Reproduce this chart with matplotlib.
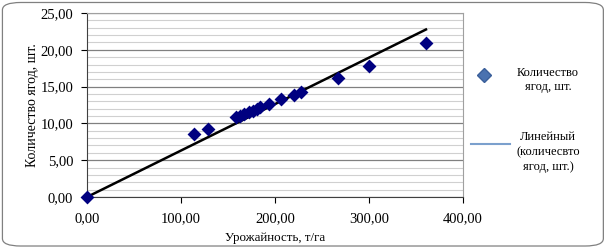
import matplotlib.pyplot as plt
from matplotlib.lines import Line2D
from matplotlib.patches import FancyBboxPatch
import numpy as np

# Data
yield_t_ha = [0.0, 114.2, 128.4, 158.2, 163.0, 167.5, 172.5, 176.5, 180.5, 184.0,
              194.0, 206.7, 220.2, 228.0, 267.4, 300.0, 360.6]
berries = [0.0, 8.56, 9.28, 10.83, 11.05, 11.25, 11.50, 11.75, 11.96, 12.19,
           12.64, 13.27, 13.86, 14.27, 16.20, 17.84, 20.88]

plt.rcParams['font.family'] = 'Liberation Serif'
plt.rcParams['font.size'] = 10.5

fig = plt.figure(figsize=(6.07, 2.49), dpi=100)
# rounded outer frame
fig.patches.append(FancyBboxPatch((0.004, 0.012), 0.99, 0.978, boxstyle='round,pad=0,rounding_size=0.03',
                                  transform=fig.transFigure, fill=False, edgecolor='#808080', linewidth=0.9))

ax = fig.add_axes([87 / 607, 52 / 249, 376 / 607, 184 / 249])

x = np.array(yield_t_ha)
y = np.array(berries)
# linear trend through the origin
k = np.sum(x * y) / np.sum(x * x)
xs = np.array([0, x.max()])
ax.plot(xs, k * xs, color='black', linewidth=1.8, zorder=3)
ax.scatter(x, y, marker='D', s=50, color='#000080', zorder=4, linewidths=0, clip_on=False)

ax.set_xlim(0, 400)
ax.set_ylim(0, 25)
ax.set_xticks(np.arange(0, 401, 100))
ax.set_yticks(np.arange(0, 26, 5))
ax.set_yticks(np.arange(0, 26, 1), minor=True)
ax.set_xticklabels([f'{v:.2f}'.replace('.', ',') for v in range(0, 401, 100)])
ax.set_yticklabels([f'{v:.2f}'.replace('.', ',') for v in range(0, 26, 5)])
ax.tick_params(axis='y', which='minor', length=0)
ax.tick_params(axis='both', which='major', length=4, direction='out', width=0.8)
ax.tick_params(axis='x', pad=7)
ax.tick_params(axis='y', pad=6)
ax.grid(axis='y', which='major', color='#808080', linewidth=0.9)
ax.grid(axis='y', which='minor', color='#d0d0d0', linewidth=0.8)
ax.set_axisbelow(True)
for s in ['top', 'right']:
    ax.spines[s].set_color('#a0a0a0')
for s in ['left', 'bottom']:
    ax.spines[s].set_color('#404040')

ax.set_xlabel('Урожайность, т/га', fontsize=9.3, labelpad=5)
ax.set_ylabel('Количество ягод, шт.', fontsize=10, labelpad=1)

# legend drawn by hand in figure pixels (origin bottom-left)
H = 249
fig.add_artist(Line2D([484 / 607], [(H - 75) / H], marker='D', linestyle='none', markersize=7.5,
                      markerfacecolor='#4a72b0', markeredgecolor='#3a5f9a', transform=fig.transFigure))
fig.text(548 / 607, (H - 80) / H, 'Количество\nягод, шт.', ha='center', va='center', linespacing=1.3,
         fontsize=9)
fig.add_artist(Line2D([471 / 607, 510 / 607], [(H - 144) / H] * 2, color='#7ba0cd', linewidth=1.5,
                      transform=fig.transFigure))
fig.text(548 / 607, (H - 152) / H, 'Линейный\n(количесвто\nягод, шт.)', ha='center', va='center',
         linespacing=1.3, fontsize=9)

fig.savefig('out.png', dpi=100)
